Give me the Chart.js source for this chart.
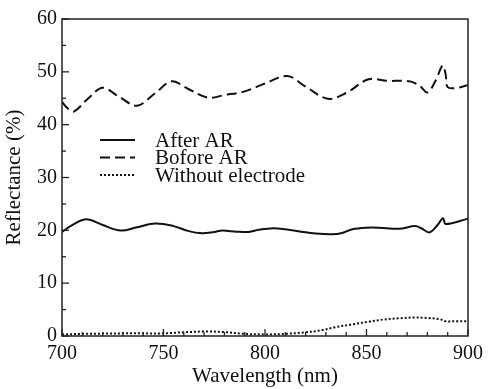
<!DOCTYPE html>
<html>
<head>
<meta charset="utf-8">
<script src="https://cdn.jsdelivr.net/npm/chart.js@4.4.1/dist/chart.umd.min.js"></script>
<style>
    html, body { margin: 0; padding: 0; background: #fff; }
    #wrap { width: 489px; height: 389px; }
</style>
</head>
<body>
<div id="wrap"><canvas id="reflectChart" width="489" height="389"></canvas></div>
<script>
// values
const afterWl = [700, 705, 712, 720, 729, 737, 746, 755, 762, 769, 775, 779, 786, 792, 797, 804, 810, 817, 825, 833, 838, 843, 850, 856, 866, 874, 877, 881, 885, 887.7, 889, 900];
const afterR = [19.7, 21.0, 22.1, 21.0, 19.95, 20.6, 21.3, 20.8, 19.9, 19.45, 19.7, 19.95, 19.75, 19.7, 20.1, 20.4, 20.2, 19.8, 19.4, 19.25, 19.5, 20.2, 20.5, 20.5, 20.3, 20.8, 20.4, 19.6, 21.0, 22.3, 21.2, 22.2];

const beforeWl = [700, 703, 706, 713, 720, 728, 737, 746, 754, 762, 772, 780, 790, 800, 811, 820, 831, 840, 851, 860, 871, 876, 880, 884, 887.5, 889, 890, 895, 900];
const beforeR = [44.3, 43.0, 42.5, 45.0, 47.0, 45.3, 43.6, 46.0, 48.2, 46.8, 45.1, 45.6, 46.3, 47.8, 49.2, 47.2, 44.9, 46.0, 48.6, 48.3, 48.2, 47.4, 46.1, 48.3, 51.2, 49.5, 47.1, 47.0, 47.5];

const withoutWl = [700, 710, 720, 730, 740, 750, 760, 770, 780, 790, 800, 810, 820, 828, 835, 843, 851, 858, 866, 874, 880, 886, 889, 895, 900];
const withoutR = [0.3, 0.4, 0.45, 0.5, 0.5, 0.5, 0.7, 0.85, 0.75, 0.4, 0.3, 0.4, 0.7, 1.1, 1.7, 2.2, 2.7, 3.1, 3.35, 3.5, 3.4, 3.2, 2.8, 2.8, 2.8];

const seriesNames = ['After AR', 'Bofore AR', 'Without electrode'];
const xTicks = [700, 750, 800, 850, 900];
const yTicks = [0, 10, 20, 30, 40, 50, 60];

const FONT = "'Liberation Serif', 'Times New Roman', serif";

function toPoints(xs, ys) {
    return xs.map((x, i) => ({x: x, y: ys[i]}));
}

// ticks drawn inside the frame, plus the frame itself
const frameTicks = {
    id: 'frameTicks',
    afterDraw(chart) {
        const ctx = chart.ctx;
        const a = chart.chartArea;
        const xs = chart.scales.x;
        const ys = chart.scales.y;
        ctx.save();
        ctx.strokeStyle = '#222';
        ctx.lineWidth = 1.5;
        ctx.strokeRect(a.left, a.top, a.right - a.left, a.bottom - a.top);
        ctx.lineWidth = 1.3;
        for (let v = 700; v <= 900; v += 10) {
            const px = xs.getPixelForValue(v);
            const len = v % 50 === 0 ? 7 : 4;
            ctx.beginPath();
            ctx.moveTo(px, a.bottom);
            ctx.lineTo(px, a.bottom - len);
            ctx.stroke();
        }
        for (let v = 0; v <= 60; v += 5) {
            const py = ys.getPixelForValue(v);
            const len = v % 10 === 0 ? 7 : 4;
            ctx.beginPath();
            ctx.moveTo(a.left, py);
            ctx.lineTo(a.left + len, py);
            ctx.stroke();
        }
        ctx.restore();
    }
};

// legend inside the plot, left side
const innerLegend = {
    id: 'innerLegend',
    afterDraw(chart) {
        const ctx = chart.ctx;
        const x0 = 100, x1 = 135, tx = 155;
        const rows = [140, 157.5, 175];
        ctx.save();
        ctx.font = '21px ' + FONT;
        ctx.fillStyle = '#111';
        ctx.textBaseline = 'middle';
        chart.data.datasets.forEach((ds, i) => {
            ctx.strokeStyle = ds.borderColor;
            ctx.lineWidth = ds.borderWidth;
            ctx.setLineDash(ds.borderDash || []);
            ctx.beginPath();
            ctx.moveTo(x0, rows[i]);
            ctx.lineTo(x1, rows[i]);
            ctx.stroke();
            ctx.setLineDash([]);
            ctx.fillText(ds.label, tx, rows[i] + 1);
        });
        ctx.restore();
    }
};

const ctx = document.getElementById('reflectChart').getContext('2d');
new Chart(ctx, {
    type: 'line',
    data: {
        datasets: [{
            label: seriesNames[0],
            data: toPoints(afterWl, afterR),
            borderColor: '#111',
            borderWidth: 2,
            tension: 0.35
        }, {
            label: seriesNames[1],
            data: toPoints(beforeWl, beforeR),
            borderColor: '#111',
            borderWidth: 2,
            borderDash: [10, 5],
            tension: 0.35
        }, {
            label: seriesNames[2],
            data: toPoints(withoutWl, withoutR),
            borderColor: '#111',
            borderWidth: 2,
            borderDash: [2, 2],
            tension: 0.35
        }]
    },
    options: {
        responsive: false,
        animation: false,
        layout: {padding: {top: 19, right: 19, left: 0, bottom: 0}},
        elements: {point: {radius: 0}},
        plugins: {legend: {display: false}, tooltip: {enabled: false}},
        scales: {
            x: {
                type: 'linear',
                min: 700,
                max: 900,
                afterBuildTicks: axis => { axis.ticks = xTicks.map(v => ({value: v})); },
                afterFit: axis => { axis.height = 53; },
                grid: {display: false, drawTicks: false},
                border: {display: false},
                ticks: {
                    padding: 6,
                    color: '#111',
                    maxRotation: 0,
                    font: {family: FONT, size: 20}
                },
                title: {
                    display: true,
                    text: 'Wavelength (nm)',
                    color: '#111',
                    padding: {top: 0, bottom: 0},
                    font: {family: FONT, size: 21}
                }
            },
            y: {
                min: 0,
                max: 60,
                afterBuildTicks: axis => { axis.ticks = yTicks.map(v => ({value: v})); },
                afterFit: axis => { axis.width = 62; },
                grid: {display: false, drawTicks: false},
                border: {display: false},
                ticks: {
                    padding: 5,
                    color: '#111',
                    font: {family: FONT, size: 20}
                },
                title: {
                    display: true,
                    text: 'Reflectance (%)',
                    color: '#111',
                    padding: {top: 2, bottom: 0},
                    font: {family: FONT, size: 21}
                }
            }
        }
    },
    plugins: [frameTicks, innerLegend]
});
</script>
</body>
</html>
